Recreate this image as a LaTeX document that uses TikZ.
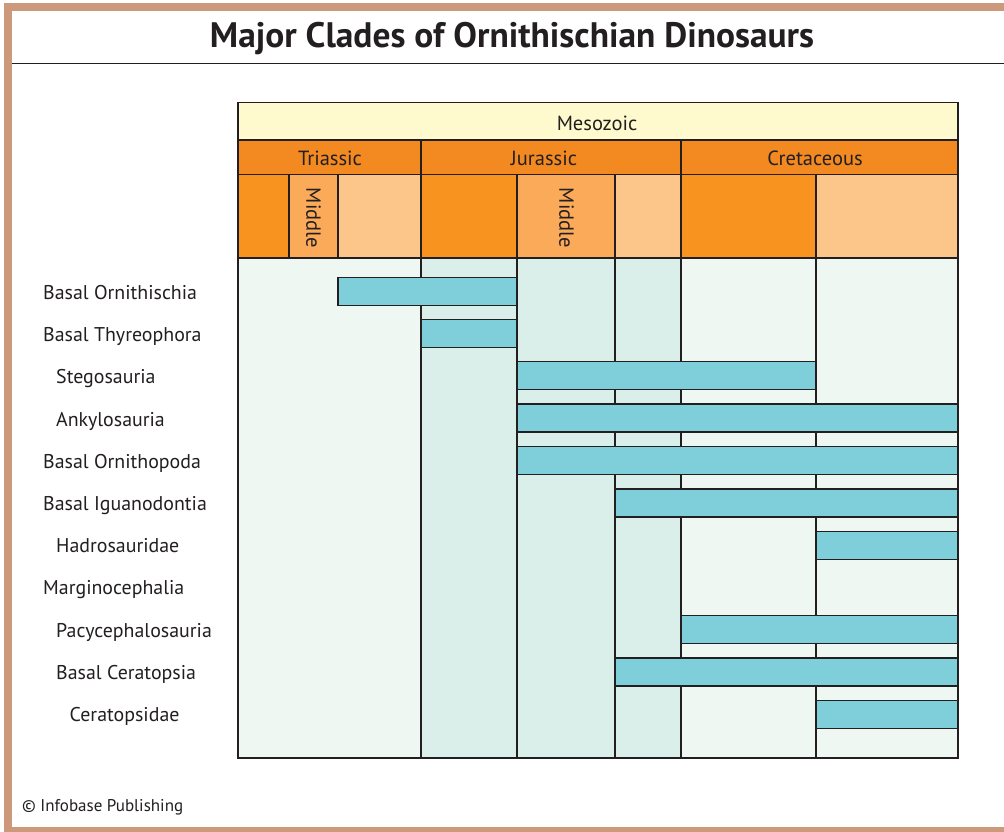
\documentclass[tikz,border=0pt]{standalone}
\usepackage{fontspec}
\setmainfont{PT Sans}
\definecolor{frametan}{RGB}{204,153,122}
\definecolor{ink}{RGB}{35,31,32}
\definecolor{mesoz}{RGB}{255,250,205}
\definecolor{period}{RGB}{242,137,33}
\definecolor{early}{RGB}{247,147,30}
\definecolor{middleep}{RGB}{250,170,88}
\definecolor{late}{RGB}{252,197,137}
\definecolor{bodylight}{RGB}{238,247,242}
\definecolor{bodyjur}{RGB}{218,239,234}
\definecolor{barcyan}{RGB}{126,207,218}
\tikzset{
  gridline/.style={draw=ink, line width=1.3pt},
  barbox/.style={fill=barcyan, draw=ink, line width=1.3pt},
  lab/.style={anchor=base west, inner sep=0pt, font=\fontsize{19.9}{24}\selectfont, text=ink},
  hdr/.style={anchor=base, inner sep=0pt, font=\fontsize{20.5}{24}\selectfont, text=ink},
  vhdr/.style={inner sep=0pt, font=\fontsize{20.5}{24}\selectfont, text=ink, rotate=-90},
}
\begin{document}
\begin{tikzpicture}[x=1pt,y=-1pt]
\useasboundingbox (0,0) rectangle (1004,832);
\fill[white] (0,0) rectangle (1004,832);
% frame
\fill[frametan] (4,3) rectangle (1004,11);
\fill[frametan] (4,3) rectangle (12,832);
\fill[frametan] (4,827) rectangle (1004,832);
\draw[ink, line width=1.2pt] (12,63.5) -- (1004,63.5);
\node[inner sep=0pt, anchor=base, font=\bfseries\fontsize{35.4}{40}\selectfont, text=ink] (title) at (512,48) {Major Clades of Ornithischian Dinosaurs};

% body backgrounds
\fill[bodylight] (238,258) rectangle (421,758);
\fill[bodyjur] (421,258) rectangle (681,758);
\fill[bodylight] (681,258) rectangle (958,758);
\foreach \xx in {421,517,615,681,816} \draw[gridline] (\xx,258) -- (\xx,758);

% bars
\draw[barbox] (338,277.2) rectangle (517,305.2);
\draw[barbox] (421,319.4) rectangle (517,347.5);
\draw[barbox] (517,361.8) rectangle (816,389.8);
\draw[barbox] (517,404) rectangle (958,432);
\draw[barbox] (517,446.5) rectangle (958,474.5);
\draw[barbox] (615,489) rectangle (958,517);
\draw[barbox] (816,531.2) rectangle (958,559.2);
\draw[barbox] (681,615.8) rectangle (958,643.8);
\draw[barbox] (615,658) rectangle (958,686);
\draw[barbox] (816,700.5) rectangle (958,728.5);

% header
\filldraw[gridline, fill=mesoz] (238,102.5) rectangle (958,140);
\filldraw[gridline, fill=period] (238,140) rectangle (421,174.5);
\filldraw[gridline, fill=period] (421,140) rectangle (681,174.5);
\filldraw[gridline, fill=period] (681,140) rectangle (958,174.5);
\filldraw[gridline, fill=early] (238,174.5) rectangle (289,258);
\filldraw[gridline, fill=middleep] (289,174.5) rectangle (338,258);
\filldraw[gridline, fill=late] (338,174.5) rectangle (421,258);
\filldraw[gridline, fill=early] (421,174.5) rectangle (517,258);
\filldraw[gridline, fill=middleep] (517,174.5) rectangle (615,258);
\filldraw[gridline, fill=late] (615,174.5) rectangle (681,258);
\filldraw[gridline, fill=early] (681,174.5) rectangle (816,258);
\filldraw[gridline, fill=late] (816,174.5) rectangle (958,258);
\node[hdr] (meso) at (597,130.5) {Mesozoic};
\node[hdr] (tri) at (330,165.5) {Triassic};
\node[hdr] (jur) at (544,165.5) {Jurassic};
\node[hdr] (cre) at (815,165.5) {Cretaceous};
\node[vhdr] (midT) at (313.5,218) {Middle};
\node[vhdr] (midJ) at (566.5,218) {Middle};

% outer frame
\draw[ink, line width=1.8pt] (238,102.5) rectangle (958,758);

% labels
\node[lab] (l1) at (43,299.5) {Basal Ornithischia};
\node[lab] (l2) at (43,341.7) {Basal Thyreophora};
\node[lab] (l3) at (56,383.9) {Stegosauria};
\node[lab] (l4) at (56,426.1) {Ankylosauria};
\node[lab] (l5) at (43,468.3) {Basal Ornithopoda};
\node[lab] (l6) at (43,510.5) {Basal Iguanodontia};
\node[lab] (l7) at (56,552.7) {Hadrosauridae};
\node[lab] (l8) at (43,594.9) {Marginocephalia};
\node[lab] (l9) at (56,637.1) {Pacycephalosauria};
\node[lab] (l10) at (56,679.3) {Basal Ceratopsia};
\node[lab] (l11) at (69.5,721.5) {Ceratopsidae};

\node[inner sep=0pt, anchor=base west, font=\fontsize{17}{20}\selectfont, text=ink] (copy) at (22,811.5) {© Infobase Publishing};
\end{tikzpicture}
\end{document}
